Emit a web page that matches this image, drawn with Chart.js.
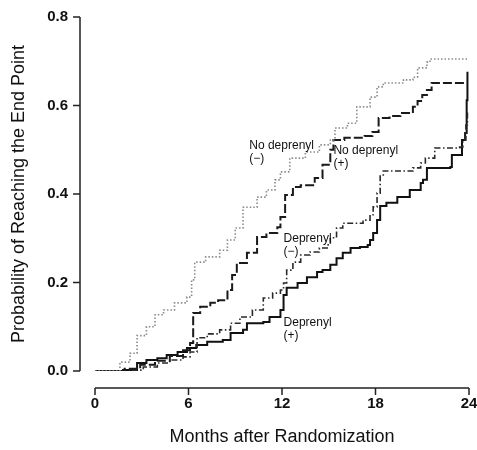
<!DOCTYPE html>
<html>
<head>
<meta charset="utf-8">
<script src="https://cdn.jsdelivr.net/npm/chart.js@4.4.1/dist/chart.umd.min.js"></script>
<style>
    html, body { margin: 0; padding: 0; background: #fff; }
</style>
</head>
<body>
<canvas id="chart" width="477" height="450"></canvas>
<script>
// Cumulative probability of reaching the end point
const noDeprenylMinusMonths = [0, 1.1, 1.6, 2.25, 2.7, 3.3, 3.85, 4.4, 5.1, 5.9, 6.2, 6.4, 7.1, 8.0, 8.5, 9.0, 9.5, 10.4, 11.0, 11.55, 11.9, 12.5, 13.5, 14.4, 15.1, 15.4, 16.2, 16.8, 17.65, 18.1, 18.5, 19.8, 20.4, 20.7, 21.3, 21.5, 23.9];
const noDeprenylMinusProb = [0, 0, 0.02, 0.04, 0.08, 0.10, 0.127, 0.138, 0.154, 0.167, 0.206, 0.246, 0.258, 0.273, 0.296, 0.323, 0.37, 0.393, 0.409, 0.432, 0.45, 0.481, 0.495, 0.511, 0.522, 0.549, 0.56, 0.597, 0.619, 0.642, 0.651, 0.658, 0.664, 0.685, 0.698, 0.705, 0.705];

const noDeprenylPlusMonths = [0, 1.3, 1.9, 2.9, 3.85, 4.8, 5.65, 6.1, 6.3, 6.75, 7.4, 7.9, 8.5, 8.8, 9.1, 9.75, 10.4, 11.0, 11.7, 11.9, 12.2, 12.7, 13.2, 14.1, 14.6, 15.1, 15.3, 16.0, 17.3, 17.8, 18.2, 18.9, 19.6, 20.4, 20.7, 21.0, 21.3, 21.6, 23.9];
const noDeprenylPlusProb = [0, 0, 0.005, 0.014, 0.023, 0.034, 0.047, 0.063, 0.131, 0.145, 0.154, 0.160, 0.183, 0.217, 0.244, 0.267, 0.303, 0.312, 0.325, 0.348, 0.398, 0.416, 0.42, 0.436, 0.466, 0.50, 0.522, 0.527, 0.531, 0.54, 0.572, 0.576, 0.583, 0.597, 0.61, 0.624, 0.635, 0.651, 0.651];

const deprenylMinusMonths = [0, 1.9, 2.4, 3.1, 4.0, 4.8, 5.65, 6.1, 6.55, 7.2, 8.0, 8.7, 9.3, 10.1, 10.8, 11.4, 11.9, 12.1, 12.3, 12.7, 13.2, 13.8, 14.4, 14.9, 15.1, 15.5, 15.9, 17.2, 17.65, 17.85, 18.1, 18.3, 18.5, 20.4, 20.9, 21.2, 21.7, 21.8, 23.4, 23.6, 23.8, 23.9];
const deprenylMinusProb = [0, 0, 0.002, 0.009, 0.018, 0.025, 0.032, 0.043, 0.075, 0.084, 0.093, 0.108, 0.122, 0.138, 0.165, 0.176, 0.183, 0.199, 0.228, 0.246, 0.262, 0.269, 0.278, 0.285, 0.301, 0.323, 0.334, 0.341, 0.353, 0.371, 0.402, 0.443, 0.452, 0.459, 0.470, 0.481, 0.481, 0.504, 0.506, 0.522, 0.556, 0.59];

const deprenylPlusMonths = [0, 0.96, 1.8, 2.7, 3.3, 4.0, 4.6, 5.3, 5.9, 6.5, 7.2, 8.2, 8.7, 9.5, 9.75, 10.8, 11.2, 11.9, 12.1, 12.3, 13.0, 13.6, 14.25, 14.6, 15.1, 15.5, 15.9, 16.4, 17.0, 17.5, 17.65, 17.85, 18.1, 18.3, 18.7, 19.4, 20.2, 20.9, 21.05, 21.3, 22.8, 22.9, 23.4, 23.55, 23.75, 23.85, 23.9];
const deprenylPlusProb = [0, 0, 0.002, 0.018, 0.025, 0.029, 0.036, 0.043, 0.052, 0.059, 0.066, 0.070, 0.086, 0.093, 0.108, 0.111, 0.122, 0.138, 0.172, 0.188, 0.199, 0.212, 0.224, 0.228, 0.240, 0.255, 0.267, 0.278, 0.280, 0.285, 0.296, 0.312, 0.341, 0.373, 0.380, 0.393, 0.409, 0.425, 0.432, 0.459, 0.461, 0.488, 0.488, 0.522, 0.538, 0.612, 0.676];

const xTicks = [0, 6, 12, 18, 24];
const yTicks = [0, 0.2, 0.4, 0.6, 0.8];

// curve labels written inside the plot: [lines, month, probability]
const curveLabels = [
    [['No deprenyl', '(\u2212)'], 9.9, 0.51],
    [['No deprenyl', '(+)'], 15.3, 0.497],
    [['Deprenyl', '(\u2212)'], 12.1, 0.30],
    [['Deprenyl', '(+)'], 12.1, 0.11]
];

const FONT = '"Liberation Sans", Arial, Helvetica, sans-serif';

function toPoints(months, probs) {
    return months.map((m, i) => ({x: m, y: probs[i]}));
}

// Draws the detached axis lines, tick marks and the curve labels
const axesPlugin = {
    id: 'detachedAxes',
    afterDraw(chart) {
        const ctx = chart.ctx;
        const xs = chart.scales.x;
        const ys = chart.scales.y;
        const area = chart.chartArea;
        const axisX = area.left - 15;
        const axisY = area.bottom + 17;

        ctx.save();
        ctx.strokeStyle = '#222';
        ctx.lineWidth = 1.5;
        ctx.beginPath();
        ctx.moveTo(axisX, ys.getPixelForValue(0.8));
        ctx.lineTo(axisX, ys.getPixelForValue(0));
        for (const v of yTicks) {
            const py = ys.getPixelForValue(v);
            ctx.moveTo(axisX - 7, py);
            ctx.lineTo(axisX, py);
        }
        ctx.moveTo(xs.getPixelForValue(0), axisY);
        ctx.lineTo(xs.getPixelForValue(24), axisY);
        for (const v of xTicks) {
            const px = xs.getPixelForValue(v);
            ctx.moveTo(px, axisY);
            ctx.lineTo(px, axisY + 7);
        }
        ctx.stroke();

        ctx.fillStyle = '#111';
        ctx.font = '12px ' + FONT;
        ctx.textAlign = 'left';
        ctx.textBaseline = 'middle';
        for (const [lines, m, p] of curveLabels) {
            const px = xs.getPixelForValue(m);
            const py = ys.getPixelForValue(p);
            lines.forEach((txt, i) => ctx.fillText(txt, px, py + i * 13));
        }
        ctx.restore();
    }
};

new Chart(document.getElementById('chart'), {
    type: 'line',
    data: {
        datasets: [
            {
                label: 'No deprenyl (\u2212)',
                data: toPoints(noDeprenylMinusMonths, noDeprenylMinusProb),
                borderColor: '#8a8a8a',
                borderWidth: 1.6,
                borderDash: [1.5, 2]
            },
            {
                label: 'No deprenyl (+)',
                data: toPoints(noDeprenylPlusMonths, noDeprenylPlusProb),
                borderColor: '#1a1a1a',
                borderWidth: 2,
                borderDash: [9, 3]
            },
            {
                label: 'Deprenyl (\u2212)',
                data: toPoints(deprenylMinusMonths, deprenylMinusProb),
                borderColor: '#2a2a2a',
                borderWidth: 1.6,
                borderDash: [6, 2.5, 1.5, 2.5]
            },
            {
                label: 'Deprenyl (+)',
                data: toPoints(deprenylPlusMonths, deprenylPlusProb),
                borderColor: '#111',
                borderWidth: 2
            }
        ]
    },
    options: {
        responsive: false,
        animation: false,
        events: [],
        layout: {
            padding: {left: 8, top: 17, right: 8, bottom: 2}
        },
        elements: {
            point: {radius: 0},
            line: {stepped: true, fill: false, tension: 0}
        },
        plugins: {
            legend: {display: false},
            tooltip: {enabled: false}
        },
        scales: {
            x: {
                type: 'linear',
                min: 0,
                max: 24,
                border: {display: false},
                grid: {display: false, drawTicks: false},
                afterFit(scale) {
                    scale.height = 77;
                    // labels are pushed down with padding, keep them from shrinking the plot sideways
                    scale.paddingLeft = 0;
                    scale.paddingRight = 0;
                },
                afterBuildTicks(scale) {
                    scale.ticks = xTicks.map(v => ({value: v}));
                },
                ticks: {
                    padding: 24,
                    color: '#111',
                    font: {family: FONT, size: 15, weight: 'bold'}
                },
                title: {
                    display: true,
                    text: 'Months after Randomization',
                    color: '#111',
                    padding: 0,
                    font: {family: FONT, size: 18}
                }
            },
            y: {
                min: 0,
                max: 0.8,
                border: {display: false},
                grid: {display: false, drawTicks: false},
                afterFit(scale) {
                    scale.width = 87;
                    scale.paddingTop = 0;
                    scale.paddingBottom = 0;
                },
                afterBuildTicks(scale) {
                    scale.ticks = yTicks.map(v => ({value: v}));
                },
                ticks: {
                    padding: 27,
                    color: '#111',
                    font: {family: FONT, size: 15, weight: 'bold'},
                    callback: v => v.toFixed(1)
                },
                title: {
                    display: true,
                    text: 'Probability of Reaching the End Point',
                    color: '#111',
                    padding: 0,
                    font: {family: FONT, size: 18}
                }
            }
        }
    },
    plugins: [axesPlugin]
});
</script>
</body>
</html>
